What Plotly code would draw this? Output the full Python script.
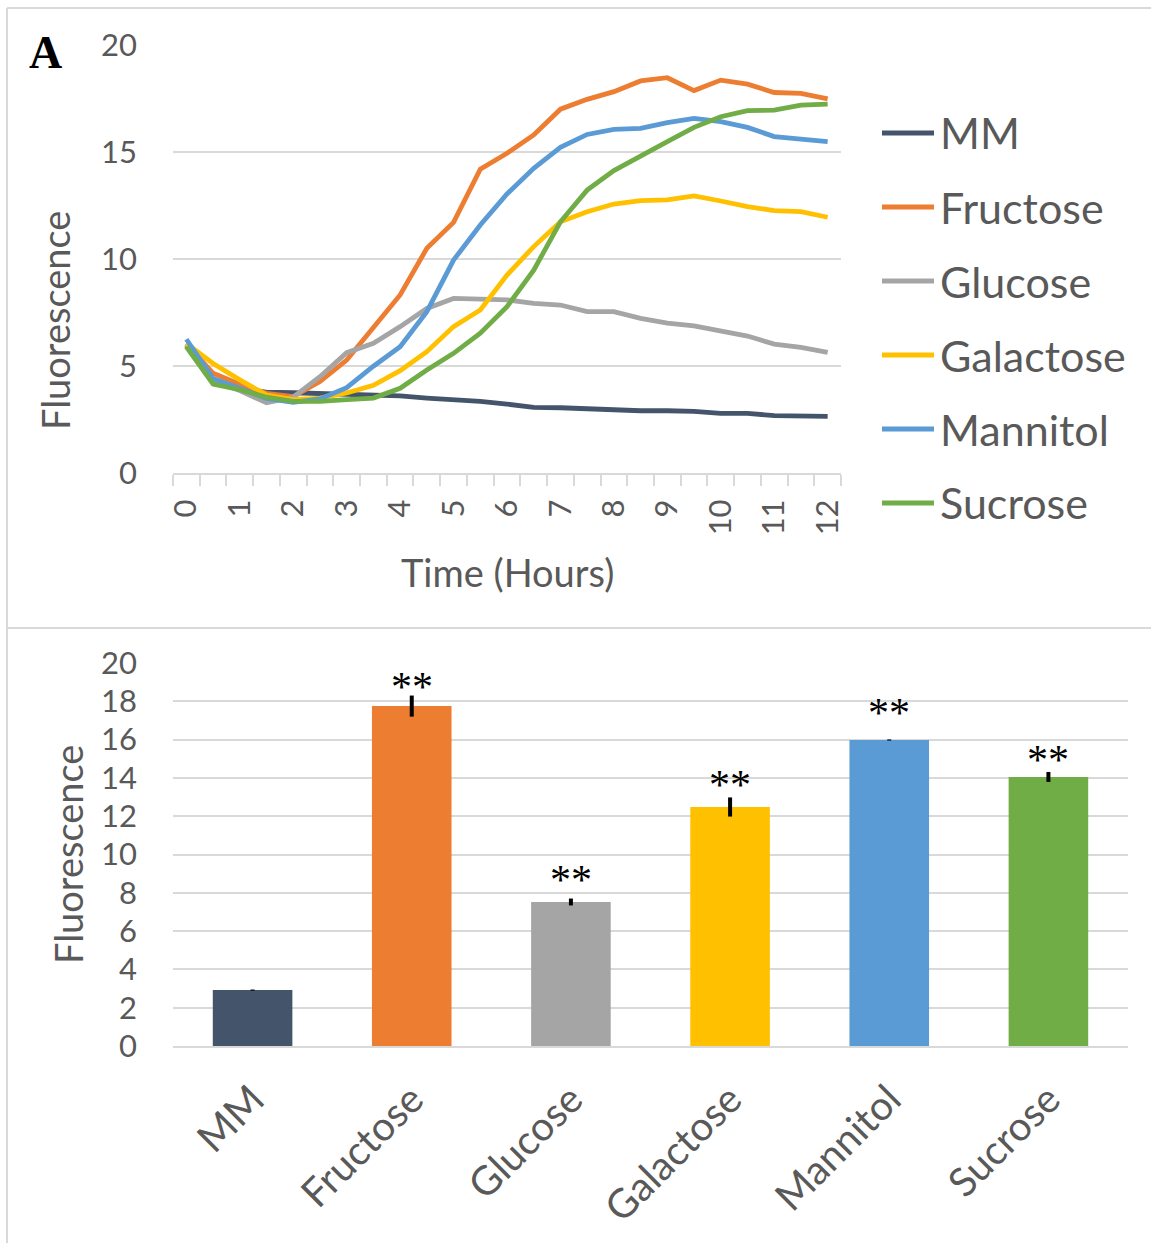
import plotly.graph_objects as go

W, H = 1151, 1243

# ---------------- data ----------------
hours = [0, 0.5, 1, 1.5, 2, 2.5, 3, 3.5, 4, 4.5, 5, 5.5, 6, 6.5, 7, 7.5, 8, 8.5,
         9, 9.5, 10, 10.5, 11, 11.5, 12]
series_names = ["MM", "Fructose", "Glucose", "Galactose", "Mannitol", "Sucrose"]
colors = ["#44546A", "#ED7D31", "#A5A5A5", "#FFC000", "#5B9BD5", "#70AD47"]

mm = [5.95, 4.3, 3.9, 3.78, 3.75, 3.72, 3.69, 3.65, 3.6, 3.5, 3.43, 3.35, 3.22,
      3.07, 3.05, 3.0, 2.91, 2.91, 2.91, 2.88, 2.79, 2.79, 2.68, 2.66, 2.65]
fructose = [6.05, 4.66, 4.15, 3.72, 3.57, 4.27, 5.28, 6.76, 8.32, 10.5, 11.71, 14.2,
            14.94, 15.8, 17.0, 17.46, 17.82, 18.32, 18.47, 17.87, 18.36, 18.17,
            17.78, 17.74, 17.48]
glucose = [6.0, 4.3, 3.85, 3.28, 3.54, 4.5, 5.62, 6.06, 6.84, 7.69, 8.16, 8.14,
           8.09, 7.93, 7.85, 7.54, 7.54, 7.23, 7.0, 6.87, 6.65, 6.4, 6.02, 5.87, 5.64]
galactose = [6.05, 5.12, 4.35, 3.64, 3.43, 3.5, 3.74, 4.1, 4.78, 5.67, 6.84, 7.62,
             9.25, 10.58, 11.74, 12.21, 12.57, 12.73, 12.76, 12.95, 12.71, 12.45,
             12.26, 12.21, 11.95]
mannitol = [6.25, 4.42, 3.96, 3.49, 3.3, 3.46, 3.99, 4.99, 5.9, 7.54, 9.95, 11.59,
            13.04, 14.24, 15.22, 15.82, 16.06, 16.1, 16.37, 16.57, 16.42, 16.15,
            15.72, 15.59, 15.48]
sucrose = [5.9, 4.16, 3.89, 3.54, 3.35, 3.35, 3.43, 3.5, 3.96, 4.81, 5.59, 6.53,
           7.77, 9.48, 11.74, 13.22, 14.13, 14.78, 15.48, 16.15, 16.65, 16.93,
           16.96, 17.19, 17.24]
line_series = [mm, fructose, glucose, galactose, mannitol, sucrose]

hour_ticks = [0, 1, 2, 3, 4, 5, 6, 7, 8, 9, 10, 11, 12]
y_ticks_top = [0, 5, 10, 15, 20]

bar_values = [2.92, 17.75, 7.52, 12.48, 15.98, 14.05]
bar_errors = [0.03, 0.55, 0.18, 0.5, 0.03, 0.26]
sig_labels = ["", "**", "**", "**", "**", "**"]
sig_y = [None, 19.18, 9.07, 14.06, 17.8, 15.37]
y_ticks_bottom = [0, 2, 4, 6, 8, 10, 12, 14, 16, 18, 20]

# ---------------- styling ----------------
FONT = "Lato"
TXT = "#595959"
GRID = "#D9D9D9"
TICK_SIZE = 31
TITLE_SIZE = 38
LEGEND_SIZE = 43
CAT_SIZE = 40


def px(x):
    return x / W


def py(y):
    return 1 - y / H


fig = go.Figure()

for name, vals, col in zip(series_names, line_series, colors):
    fig.add_trace(go.Scatter(
        x=hours, y=vals, mode="lines", name=name,
        line=dict(color=col, width=4.8),
        xaxis="x", yaxis="y", showlegend=False,
    ))

fig.add_trace(go.Bar(
    x=series_names, y=bar_values,
    marker=dict(color=colors, line=dict(width=0)),
    error_y=dict(type="data", array=bar_errors, visible=True,
                 color="black", thickness=4, width=0),
    xaxis="x2", yaxis="y2", showlegend=False,
))

annotations = []
# significance markers
for cat, lab, yy in zip(series_names, sig_labels, sig_y):
    if lab:
        annotations.append(dict(
            x=cat, y=yy, xref="x2", yref="y2", text=lab, showarrow=False,
            xanchor="center", yanchor="middle", yshift=-8,
            font=dict(family="Liberation Serif", size=42, color="black")))

# manual legend
for k, (name, col) in enumerate(zip(series_names, colors)):
    yc = 133 + 74 * k
    annotations.append(dict(
        x=px(938), y=py(yc), xref="paper", yref="paper", text=name,
        showarrow=False, xanchor="left", yanchor="middle",
        font=dict(family=FONT, size=LEGEND_SIZE, color=TXT)))

# axis titles and panel letter
annotations += [
    dict(x=px(55), y=py(321), xref="paper", yref="paper", text="Fluorescence",
         textangle=-90, showarrow=False, xanchor="center", yanchor="middle",
         font=dict(family=FONT, size=TITLE_SIZE, color=TXT)),
    dict(x=px(507), y=py(572), xref="paper", yref="paper", text="Time (Hours)",
         showarrow=False, xanchor="center", yanchor="middle",
         font=dict(family=FONT, size=TITLE_SIZE, color=TXT)),
    dict(x=px(68), y=py(855), xref="paper", yref="paper", text="Fluorescence",
         textangle=-90, showarrow=False, xanchor="center", yanchor="middle",
         font=dict(family=FONT, size=TITLE_SIZE, color=TXT)),
    dict(x=px(45), y=py(53), xref="paper", yref="paper", text="<b>A</b>",
         showarrow=False, xanchor="center", yanchor="middle",
         font=dict(family="Liberation Serif", size=46, color="black")),
]

shapes = [
    dict(type="line", xref="paper", yref="paper", x0=px(7), x1=1, y0=py(8), y1=py(8),
         line=dict(color=GRID, width=2)),
    dict(type="line", xref="paper", yref="paper", x0=px(7), x1=px(7), y0=py(8), y1=0,
         line=dict(color=GRID, width=2)),
    dict(type="line", xref="paper", yref="paper", x0=px(7), x1=1, y0=py(628), y1=py(628),
         line=dict(color=GRID, width=2)),
]
for k, col in enumerate(colors):
    yc = 133 + 74 * k
    shapes.append(dict(type="line", xref="paper", yref="paper",
                       x0=px(882), x1=px(934), y0=py(yc), y1=py(yc),
                       line=dict(color=col, width=5)))

tickfont = dict(family=FONT, size=TICK_SIZE, color=TXT)

fig.update_layout(
    width=W, height=H,
    margin=dict(l=0, r=0, t=0, b=0),
    paper_bgcolor="white", plot_bgcolor="white",
    bargap=0.5,
    annotations=annotations,
    shapes=shapes,
    xaxis=dict(
        domain=[px(173), px(841)], range=[-0.25, 12.25],
        tickmode="array", tickvals=hour_ticks, ticktext=[str(h) for h in hour_ticks],
        tickangle=-90, ticks="", ticklabelstandoff=12,
        tickfont=tickfont, showgrid=False, zeroline=False,
        showline=True, linecolor=GRID, linewidth=2,
        minor=dict(ticks="outside", tick0=-0.25, dtick=0.5, ticklen=11,
                   tickcolor=GRID, tickwidth=1.5, showgrid=False),
        automargin=False, anchor="y", fixedrange=True,
    ),
    yaxis=dict(
        domain=[py(473), py(45)], range=[0, 20],
        tickmode="array", tickvals=y_ticks_top,
        ticks="", ticklabelstandoff=35, tickfont=tickfont,
        showgrid=True, gridcolor=GRID, gridwidth=2, zeroline=False,
        showline=False, automargin=False, anchor="x",
    ),
    xaxis2=dict(
        domain=[px(173), px(1128)], type="category",
        tickangle=-45, ticks="", tickfont=dict(family=FONT, size=CAT_SIZE, color=TXT),
        showgrid=False, zeroline=False, showline=True, linecolor=GRID, linewidth=2,
        automargin=False, anchor="y2", ticklabelstandoff=12,
    ),
    yaxis2=dict(
        domain=[py(1046), py(663)], range=[0, 20],
        tickmode="array", tickvals=y_ticks_bottom,
        ticks="", ticklabelstandoff=35, tickfont=tickfont,
        showgrid=True, gridcolor=GRID, gridwidth=2, zeroline=False,
        showline=False, automargin=False, anchor="x2",
    ),
)

fig.write_html("out.html")
